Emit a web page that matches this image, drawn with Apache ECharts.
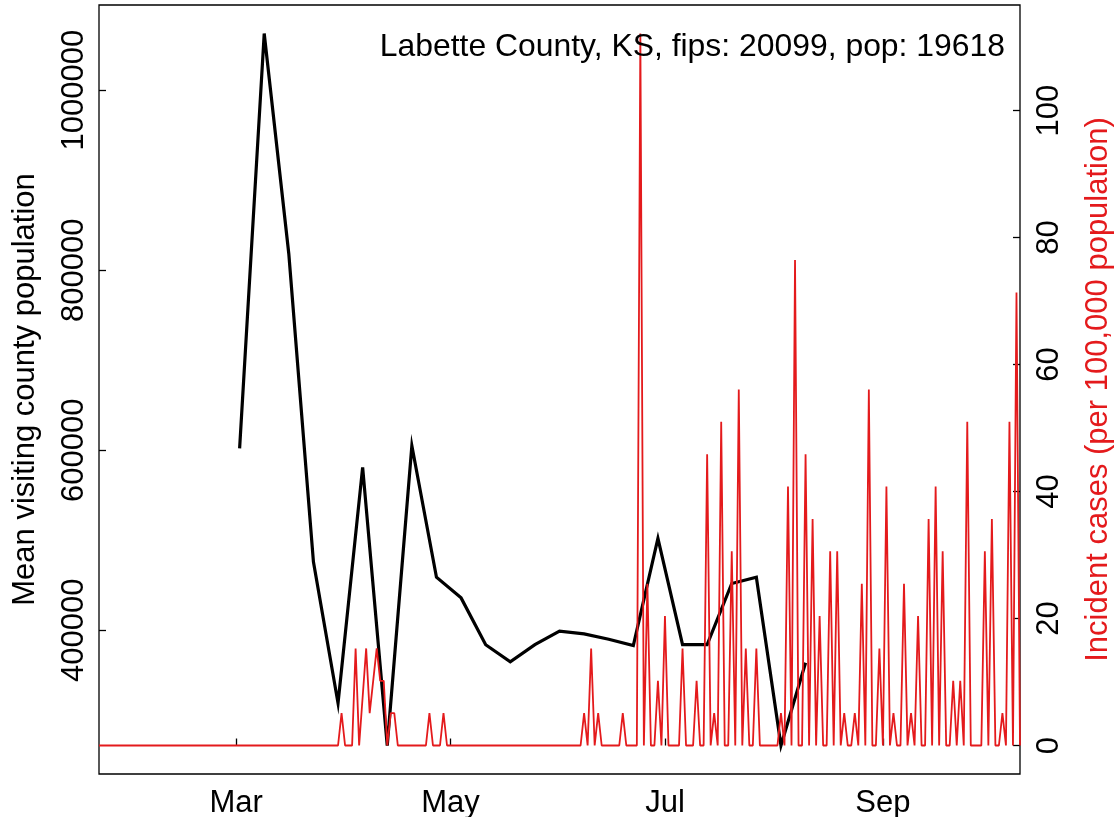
<!DOCTYPE html>
<html><head><meta charset="utf-8">
<script src="https://cdn.jsdelivr.net/npm/echarts@6/dist/echarts.min.js"></script>
<style>html,body{margin:0;padding:0;background:#fff}#chart{width:1119px;height:817px}</style>
</head><body><div id="chart"></div>
<script>
// ---- texts ----
const countyTitle = 'Labette County, KS, fips: 20099, pop: 19618';
const leftAxisName = 'Mean visiting county population';
const rightAxisName = 'Incident cases (per 100,000 population)';

// ---- weekly mean visiting county population (black line) ----
const visitDates = ['2020-03-02','2020-03-09','2020-03-16','2020-03-23','2020-03-30','2020-04-06',
  '2020-04-13','2020-04-20','2020-04-27','2020-05-04','2020-05-11','2020-05-18','2020-05-25',
  '2020-06-01','2020-06-08','2020-06-15','2020-06-22','2020-06-29','2020-07-06','2020-07-13',
  '2020-07-20','2020-07-27','2020-08-03','2020-08-10'];
const visitMean = [602000,1063000,818000,476000,319000,581000,
  272000,605000,459000,436000,384000,365000,384000,
  399000,396000,390000,383000,502000,384000,384000,
  452000,459000,272000,364000];

// ---- daily incident cases per 100,000 (red line), first day 2020-01-22 ----
const caseStart = '2020-01-22';
const casesJan = [0,0,0,0,0,0,0,0,0,0];
const casesFeb = [0,0,0,0,0,0,0,0,0,0, 0,0,0,0,0,0,0,0,0,0, 0,0,0,0,0,0,0,0,0];
const casesMar = [0,0,0,0,0,0,0,0,0,0, 0,0,0,0,0,0,0,0,0,0, 0,0,0,0,0,0,0,0,0,0, 5.10];
const casesApr = [0,0,0,15.29,0,7.65,15.29,5.10,10.19,15.29, 10.19,10.19,0,5.10,5.10,0,0,0,0,0, 0,0,0,0,5.10,0,0,0,5.10,0];
const casesMay = [0,0,0,0,0,0,0,0,0,0, 0,0,0,0,0,0,0,0,0,0, 0,0,0,0,0,0,0,0,0,0, 0];
const casesJun = [0,0,0,0,0,0,0,5.10,0,15.29, 0,5.10,0,0,0,0,0,0,5.10,0, 0,0,0,112.14,0,25.49,0,0,10.19,0];
const casesJul = [20.39,0,0,0,0,15.29,0,0,0,10.19, 0,0,45.88,0,5.10,0,50.97,0,0,30.59, 0,56.07,0,15.29,0,0,15.29,0,0,0, 0];
const casesAug = [0,0,5.10,0,40.78,0,76.46,0,0,45.88, 0,35.68,0,20.39,0,0,30.59,0,30.59,0, 5.10,0,0,5.10,0,25.49,0,56.07,0,0, 15.29];
const casesSep = [0,40.78,0,5.10,0,0,25.49,0,5.10,0, 20.39,0,0,35.68,0,40.78,0,30.59,0,0, 10.19,0,10.19,0,50.97,0,0,0,0,30.59];
const casesOct = [0,35.68,0,0,5.10,0,50.97,0,71.36,0];

// ---- axis ticks ----
const monthTicks = ['2020-03-01','2020-05-01','2020-07-01','2020-09-01'];
const monthLabels = ['Mar','May','Jul','Sep'];
const leftTicks = [400000,600000,800000,1000000];
const rightTicks = [0,20,40,60,80,100];
const xStart = '2020-01-22';
const xEnd = '2020-10-10';

// ---- build ----
function toTime(s){ const p = s.split('-').map(Number); return new Date(p[0], p[1]-1, p[2]).getTime(); }
const dailyRates = [].concat(casesJan,casesFeb,casesMar,casesApr,casesMay,casesJun,casesJul,casesAug,casesSep,casesOct);
const s0 = caseStart.split('-').map(Number);
const caseSeries = dailyRates.map((v,i)=>[new Date(s0[0], s0[1]-1, s0[2]+i).getTime(), v]);
const visitSeries = visitDates.map((d,i)=>[toTime(d), visitMean[i]]);

const lMin = Math.min(...visitMean), lMax = Math.max(...visitMean);
const lPad = 0.04*(lMax-lMin);
const rMin = 0, rMax = Math.max(...dailyRates);
const rPad = 0.04*(rMax-rMin);
const tickTimes = monthTicks.map(toTime);

const FONT = 'Liberation Sans, Arial, Helvetica, sans-serif';
const FS = 31;
const tickStyle = {color:'#000', width:1.3};

const chart = echarts.init(document.getElementById('chart'), null, {renderer:'canvas'});
chart.setOption({
  animation: false,
  backgroundColor: '#fff',
  textStyle: {fontFamily: FONT},
  title: {
    text: countyTitle, right: 114, top: 31, padding: 0,
    textStyle: {fontSize: 31.9, fontWeight: 'normal', color: '#000', fontFamily: FONT}
  },
  grid: {left: 99, right: 99, top: 5, bottom: 43, show: true, containLabel: false, outerBoundsMode: 'none',
         borderColor: '#000', borderWidth: 1.3, backgroundColor: 'transparent'},
  xAxis: {
    type: 'value', min: toTime(xStart), max: toTime(xEnd),
    axisLine: {show: false}, splitLine: {show: false},
    axisTick: {show: true, inside: true, length: 7, lineStyle: tickStyle, customValues: tickTimes},
    axisLabel: {
      customValues: tickTimes, margin: 14, fontSize: FS, color: '#000', fontFamily: FONT,
      formatter: function(v){ const i = tickTimes.findIndex(t => Math.abs(t - v) < 43200000); return i >= 0 ? monthLabels[i] : ''; }
    }
  },
  yAxis: [{
    type: 'value', position: 'left', min: lMin - lPad, max: lMax + lPad,
    axisLine: {show: false}, splitLine: {show: false},
    axisTick: {show: true, inside: true, length: 7, lineStyle: tickStyle, customValues: leftTicks},
    axisLabel: {customValues: leftTicks, rotate: 90, margin: 9, fontSize: FS, color: '#000', fontFamily: FONT, formatter: v => String(v)},
    name: leftAxisName, nameLocation: 'middle', nameGap: 58,
    nameTextStyle: {fontSize: FS, color: '#000', fontFamily: FONT}
  },{
    type: 'value', position: 'right', min: rMin - rPad, max: rMax + rPad,
    axisLine: {show: false}, splitLine: {show: false},
    axisTick: {show: true, inside: true, length: 7, lineStyle: tickStyle, customValues: rightTicks},
    axisLabel: {customValues: rightTicks, rotate: 90, margin: 14, fontSize: FS, color: '#000', fontFamily: FONT, formatter: v => String(v)},
    name: rightAxisName, nameLocation: 'middle', nameGap: 63,
    nameTextStyle: {fontSize: FS, color: '#E41A1C', fontFamily: FONT}
  }],
  series: [{
    type: 'line', yAxisIndex: 0, data: visitSeries, showSymbol: false, z: 2, silent: true,
    lineStyle: {color: '#000', width: 3.2, join: 'miter'}
  },{
    type: 'line', yAxisIndex: 1, data: caseSeries, showSymbol: false, z: 3, silent: true,
    lineStyle: {color: '#E41A1C', width: 1.8}
  }]
});
</script></body></html>
